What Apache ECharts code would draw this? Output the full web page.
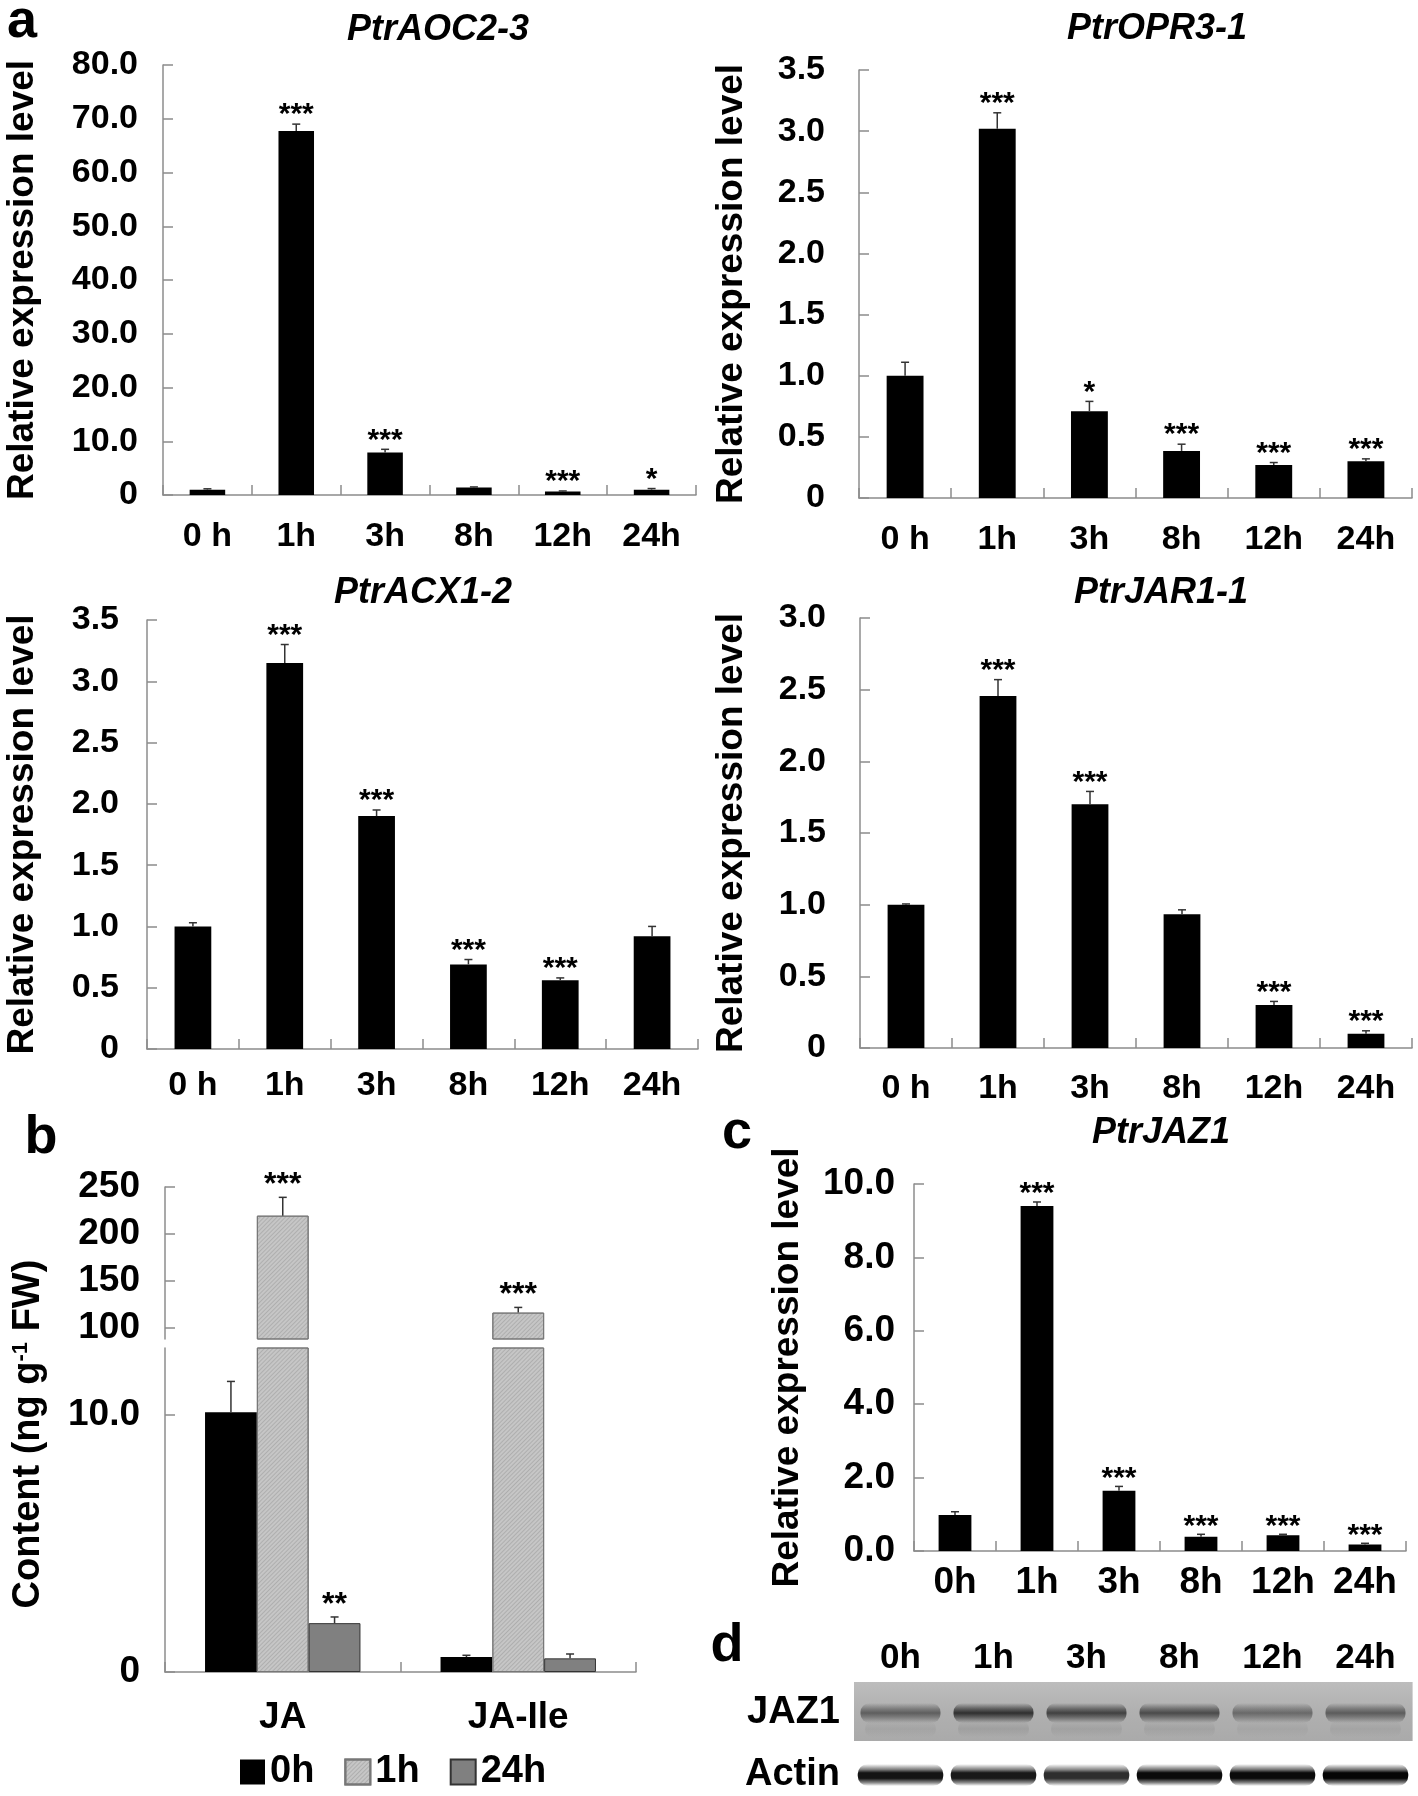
<!DOCTYPE html>
<html><head><meta charset="utf-8">
<script src="https://cdn.jsdelivr.net/npm/echarts@6.0.0/dist/echarts.min.js"></script>
<style>html,body{margin:0;padding:0;background:#fff}#c{width:1418px;height:1796px}</style>
</head><body><div id="c"></div>
<script>
// ---------- data ----------
const hoursA = ['0 h', '1h', '3h', '8h', '12h', '24h'];
const hoursC = ['0h', '1h', '3h', '8h', '12h', '24h'];

const aocVals = [1.0, 67.7, 7.9, 1.4, 0.65, 1.0];
const aocErr  = [0.15, 1.3, 0.6, 0.1, 0.1, 0.2];
const aocSig  = ['', '***', '***', '', '***', '*'];

const oprVals = [1.0, 3.02, 0.71, 0.385, 0.27, 0.30];
const oprErr  = [0.11, 0.13, 0.08, 0.055, 0.02, 0.02];
const oprSig  = ['', '***', '*', '***', '***', '***'];

const acxVals = [1.0, 3.15, 1.90, 0.69, 0.56, 0.92];
const acxErr  = [0.03, 0.15, 0.05, 0.04, 0.02, 0.08];
const acxSig  = ['', '***', '***', '***', '***', ''];

const jarVals = [1.0, 2.455, 1.70, 0.934, 0.30, 0.10];
const jarErr  = [0.005, 0.115, 0.09, 0.03, 0.025, 0.02];
const jarSig  = ['', '***', '***', '', '***', '***'];

const jazVals = [0.98, 9.40, 1.64, 0.39, 0.43, 0.18];
const jazErr  = [0.09, 0.11, 0.12, 0.065, 0.025, 0.03];
const jazSig  = ['', '***', '***', '***', '***', '***'];

const hormones = ['JA', 'JA-Ile'];
const b0hVals  = [10.1, 0.58];
const b0hErr   = [1.2, 0.07];
const b0hSig   = ['', ''];
const b1hVals  = [219.5, 116.4];
const b1hErr   = [19.5, 5.5];
const b1hSig   = ['***', '***'];
const b24hVals = [1.9, 0.53];
const b24hErr  = [0.24, 0.17];
const b24hSig  = ['**', ''];
const bUpperTicks = [100, 150, 200, 250];
const bLowerTicks = [0, 10];

const blotRows = ['JAZ1', 'Actin'];
const jaz1Band  = [0.60, 0.95, 0.82, 0.75, 0.52, 0.62];
const actinBand = [0.92, 0.90, 0.82, 0.96, 0.96, 0.98];

// ---------- styling helpers ----------
const FONT = "'Liberation Sans', Arial, Helvetica, sans-serif";
const AXIS_COLOR = '#8c8c8c';
const fmtA = v => v === 0 ? '0' : v.toFixed(1);

function catAxis(gi, data, fs, margin, extra) {
  return Object.assign({
    type: 'category', gridIndex: gi, data,
    axisLine: {show: true, onZero: false, lineStyle: {color: AXIS_COLOR, width: 1.5}},
    axisTick: {show: true, inside: true, length: 10, lineStyle: {color: AXIS_COLOR, width: 1.5}},
    axisLabel: {color: '#000', fontFamily: FONT, fontWeight: 'bold', fontSize: fs, margin, interval: 0},
    splitLine: {show: false}
  }, extra || {});
}
function valAxis(gi, min, max, interval, fs, margin, fmt, extra) {
  const a = {
    type: 'value', gridIndex: gi, min, max,
    axisLine: {show: true, lineStyle: {color: AXIS_COLOR, width: 1.5}},
    axisTick: {show: true, inside: true, length: 10, lineStyle: {color: AXIS_COLOR, width: 1.5}},
    splitLine: {show: false},
    axisLabel: {color: '#000', fontFamily: FONT, fontWeight: 'bold', fontSize: fs, margin, formatter: fmt}
  };
  if (interval != null) a.interval = interval;
  return Object.assign(a, extra || {});
}
function yName(gap, fs) {
  return {name: 'Relative expression level', nameLocation: 'middle', nameRotate: 90, nameGap: gap,
    nameTextStyle: {color: '#000', fontFamily: FONT, fontWeight: 'bold', fontSize: fs}};
}
function barSeries(gi, vals, name, color, extra) {
  return Object.assign({
    type: 'bar', name, xAxisIndex: gi, yAxisIndex: gi, data: vals, barWidth: '40%',
    itemStyle: {color}, silent: true
  }, extra || {});
}
function errSeries(gi, vals, errs, sigs, opt) {
  opt = opt || {};
  return {
    type: 'custom', xAxisIndex: gi, yAxisIndex: gi, z: 5, silent: true,
    data: vals.map((v, i) => [i, v, errs[i]]),
    renderItem(params, api) {
      const i = api.value(0), v = api.value(1), e = api.value(2);
      const cs = params.coordSys;
      const p0 = api.coord([i, v]);
      const p1 = api.coord([i, v + e]);
      if (p1[1] < cs.y - 1 || p1[1] > cs.y + cs.height + 1) return null;
      const bw = api.size([1, 0])[0];
      const x = p0[0] + (opt.offset || 0) * bw;
      const y0 = Math.min(p0[1], cs.y + cs.height);
      const sig = sigs[params.dataIndex];
      const children = [
        {type: 'line', shape: {x1: x, y1: y0, x2: x, y2: p1[1]}, style: {stroke: '#333', lineWidth: 1.5}},
        {type: 'line', shape: {x1: x - 4, y1: p1[1], x2: x + 4, y2: p1[1]}, style: {stroke: '#333', lineWidth: 1.5}}
      ];
      if (sig) children.push({type: 'text', x: x, y: p1[1] - (opt.starGap || 9),
        style: {text: sig, fill: '#000', font: 'bold ' + (opt.starSize || 30) + 'px ' + FONT, align: 'center', verticalAlign: 'middle'}});
      return {type: 'group', children};
    }
  };
}

const hatchDecal = {symbol: 'rect', symbolSize: 1, dashArrayX: [[1, 0]], dashArrayY: [1, 2], rotation: -Math.PI / 4, color: 'rgba(90,90,90,0.22)'};
const bStyle = {barCategoryGap: '34%', barGap: '0%', barWidth: null};
const b0Style = {color: '#000'};
const b1Style = {color: '#c6c6c6', borderColor: '#777', borderWidth: 1, decal: hatchDecal};
const b24Style = {color: '#808080', borderColor: '#333', borderWidth: 1};

function bBars(gi) {
  return [
    Object.assign(barSeries(gi, b0hVals, '0h', '#000'), bStyle, {itemStyle: b0Style}),
    Object.assign(barSeries(gi, b1hVals, '1h', '#c6c6c6'), bStyle, {itemStyle: b1Style}),
    Object.assign(barSeries(gi, b24hVals, '24h', '#808080'), bStyle, {itemStyle: b24Style})
  ];
}
function bErrs(gi) {
  return [
    errSeries(gi, b0hVals, b0hErr, b0hSig, {offset: -0.22, starGap: 12, starSize: 32}),
    errSeries(gi, b1hVals, b1hErr, b1hSig, {offset: 0, starGap: 12, starSize: 32}),
    errSeries(gi, b24hVals, b24hErr, b24hSig, {offset: 0.22, starGap: 12, starSize: 32})
  ];
}

function vGrad(rgb, k, stops) {
  return new echarts.graphic.LinearGradient(0, 0, 0, 1, stops.map(s => ({offset: s[0], color: 'rgba(' + rgb + ',' + (k * s[1]) + ')'})));
}
function blotSeries() {
  const data = [];
  hoursC.forEach((h, i) => { data.push([i, 0, jaz1Band[i]]); data.push([i, 1, actinBand[i]]); });
  return {
    type: 'custom', xAxisIndex: 7, yAxisIndex: 7, silent: true, data,
    renderItem(params, api) {
      const i = api.value(0), r = api.value(1), k = api.value(2);
      const c = api.coord([i, r]);
      const w = api.size([1, 0])[0], h = api.size([0, 1])[1];
      if (r === 0) {
        return {type: 'group', children: [
          {type: 'rect', shape: {x: c[0] - w / 2, y: c[1] - h / 2, width: w + 0.6, height: h - 3},
            style: {fill: new echarts.graphic.LinearGradient(0, 0, 0, 1, [
              {offset: 0, color: '#bdbdbd'}, {offset: 0.5, color: '#b0b0b0'}, {offset: 1, color: '#aaaaaa'}])}},
          {type: 'rect', shape: {x: c[0] - w * 0.43, y: c[1] - 10, width: w * 0.86, height: 20, r: 9},
            style: {fill: vGrad('40,40,40', k, [[0, 0], [0.3, 0.65], [0.5, 1], [0.7, 0.65], [1, 0]])}},
          {type: 'rect', shape: {x: c[0] - w * 0.38, y: c[1] + 8, width: w * 0.76, height: 16, r: 7},
            style: {fill: vGrad('80,80,80', k, [[0, 0], [0.5, 0.15], [1, 0]])}}
        ]};
      }
      return {type: 'rect', shape: {x: c[0] - w * 0.46, y: c[1] - 11, width: w * 0.92, height: 22, r: 10},
        style: {fill: vGrad('0,0,0', k, [[0, 0], [0.25, 0.55], [0.4, 1], [0.65, 1], [0.85, 0.5], [1, 0]])}};
    }
  };
}

function txt(x, y, text, size, style, extra) {
  return Object.assign({type: 'text', x, y, silent: true,
    style: {text, fill: '#000', font: (style || 'bold') + ' ' + size + 'px ' + FONT, align: 'center', verticalAlign: 'middle'}}, extra || {});
}

const option = {
  animation: false,
  backgroundColor: '#fff',
  grid: [
    {left: 163, top: 65, width: 533, height: 430, outerBoundsMode: 'none'},
    {left: 859, top: 70, width: 553, height: 428, outerBoundsMode: 'none'},
    {left: 147, top: 620, width: 551, height: 429, outerBoundsMode: 'none'},
    {left: 860, top: 618, width: 552, height: 430, outerBoundsMode: 'none'},
    {left: 165, top: 1187, width: 471, height: 152, outerBoundsMode: 'none'},
    {left: 165, top: 1348, width: 471, height: 324, outerBoundsMode: 'none'},
    {left: 914, top: 1184, width: 492, height: 367, outerBoundsMode: 'none'},
    {left: 854, top: 1682, width: 558, height: 124, outerBoundsMode: 'none'}
  ],
  xAxis: [
    catAxis(0, hoursA, 34, 25),
    catAxis(1, hoursA, 34, 25),
    catAxis(2, hoursA, 34, 20),
    catAxis(3, hoursA, 34, 24),
    catAxis(4, hormones, 37, 27, {show: false}),
    catAxis(5, hormones, 37, 27),
    catAxis(6, hoursC, 37, 13),
    catAxis(7, hoursC, 35, 6, {position: 'top', axisLine: {show: false}, axisTick: {show: false}})
  ],
  yAxis: [
    valAxis(0, 0, 80, 10, 34, 25, fmtA, yName(122, 37)),
    valAxis(1, 0, 3.5, 0.5, 34, 34, fmtA, yName(109, 37)),
    valAxis(2, 0, 3.5, 0.5, 34, 28, fmtA, yName(106, 37)),
    valAxis(3, 0, 3.0, 0.5, 34, 34, fmtA, yName(110, 37)),
    valAxis(4, 88.3, 250, null, 37, 25, v => String(v), {
      axisLabel: {color: '#000', fontFamily: FONT, fontWeight: 'bold', fontSize: 37, margin: 25, customValues: bUpperTicks, formatter: v => String(v)},
      axisTick: {show: true, inside: true, length: 10, customValues: bUpperTicks, lineStyle: {color: AXIS_COLOR, width: 1.5}}
    }),
    valAxis(5, 0, 12.6, null, 37, 25, null, {
      axisLabel: {color: '#000', fontFamily: FONT, fontWeight: 'bold', fontSize: 37, margin: 25, customValues: bLowerTicks, formatter: v => v === 0 ? '0' : v.toFixed(1)},
      axisTick: {show: true, inside: true, length: 10, customValues: bLowerTicks, lineStyle: {color: AXIS_COLOR, width: 1.5}}
    }),
    valAxis(6, 0, 10, 2, 37, 19, v => v.toFixed(1), yName(108, 37)),
    {type: 'category', gridIndex: 7, data: blotRows, inverse: true,
      axisLine: {show: false}, axisTick: {show: false}, splitLine: {show: false},
      axisLabel: {color: '#000', fontFamily: FONT, fontWeight: 'bold', fontSize: 38, margin: 14}}
  ],
  legend: {
    data: ['0h', '1h', '24h'], left: 235, top: 1748, itemWidth: 25, itemHeight: 25, itemGap: 30,
    icon: 'rect', selectedMode: false,
    textStyle: {color: '#000', fontFamily: FONT, fontWeight: 'bold', fontSize: 38}
  },
  series: [
    barSeries(0, aocVals, 'PtrAOC2-3', '#000'), errSeries(0, aocVals, aocErr, aocSig),
    barSeries(1, oprVals, 'PtrOPR3-1', '#000'), errSeries(1, oprVals, oprErr, oprSig),
    barSeries(2, acxVals, 'PtrACX1-2', '#000'), errSeries(2, acxVals, acxErr, acxSig),
    barSeries(3, jarVals, 'PtrJAR1-1', '#000'), errSeries(3, jarVals, jarErr, jarSig),
    barSeries(6, jazVals, 'PtrJAZ1', '#000'), errSeries(6, jazVals, jazErr, jazSig, {starGap: 8}),
    ...bBars(4), ...bBars(5), ...bErrs(4), ...bErrs(5),
    blotSeries()
  ],
  graphic: [
    txt(22, 22, 'a', 54),
    txt(41, 1138, 'b', 54),
    txt(737, 1133, 'c', 54),
    txt(727, 1646, 'd', 54),
    txt(438, 30, 'PtrAOC2-3', 36, 'italic bold'),
    txt(1157, 29, 'PtrOPR3-1', 36, 'italic bold'),
    txt(423, 593, 'PtrACX1-2', 36, 'italic bold'),
    txt(1161, 593, 'PtrJAR1-1', 36, 'italic bold'),
    txt(1161, 1133, 'PtrJAZ1', 36, 'italic bold'),
    {type: 'text', x: 29, y: 1434, rotation: Math.PI / 2, silent: true,
      style: {text: 'Content (ng g{s|-1} FW)', fill: '#000', font: 'bold 38px ' + FONT, align: 'center', verticalAlign: 'middle',
        rich: {s: {fontSize: 22, fontWeight: 'bold', fontFamily: FONT, verticalAlign: 'top', lineHeight: 22}}}}
  ]
};

const chart = echarts.init(document.getElementById('c'), null, {renderer: 'canvas', width: 1418, height: 1796});
chart.setOption(option);
</script>
</body></html>
